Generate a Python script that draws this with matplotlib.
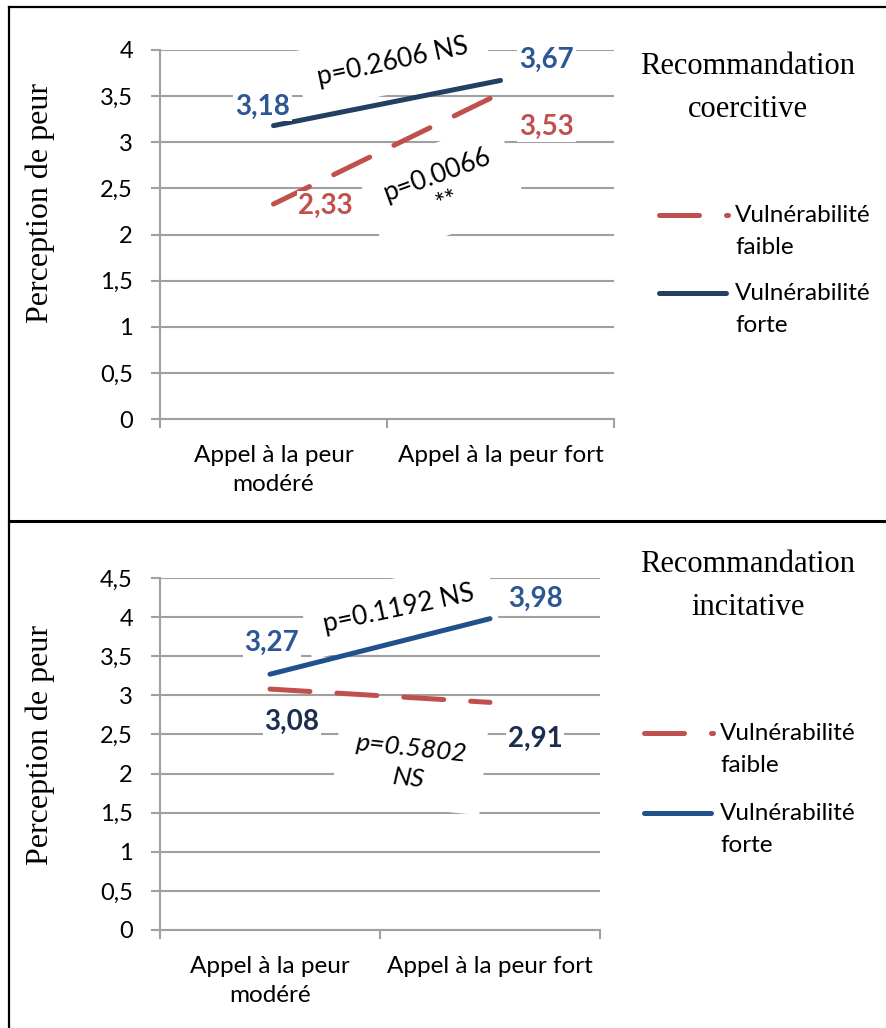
import matplotlib
matplotlib.use("Agg")
import matplotlib.pyplot as plt
from matplotlib.lines import Line2D
from matplotlib.ticker import FixedLocator

# ---------------- data ----------------
categories = ["Appel à la peur\nmodéré", "Appel à la peur fort"]
series_names = ["Vulnérabilité\nfaible", "Vulnérabilité\nforte"]

coercitive_faible = [2.33, 3.53]
coercitive_forte = [3.18, 3.67]
incitative_faible = [3.08, 2.91]
incitative_forte = [3.27, 3.98]

yticks_coercitive = [0, 0.5, 1, 1.5, 2, 2.5, 3, 3.5, 4]
yticks_incitative = [0, 0.5, 1, 1.5, 2, 2.5, 3, 3.5, 4, 4.5]

titles = ["Recommandation\ncoercitive", "Recommandation\nincitative"]
ylabel = "Perception de peur"
pvals_coercitive = ["p=0.2606 NS", "p=0.0066\n**"]
pvals_incitative = ["p=0.1192 NS", "p=0.5802\nNS"]

# ---------------- style ----------------
W, H = 886, 1028
plt.rcParams['lines.scale_dashes'] = False
SANS = ['Lato', 'DejaVu Sans']
SERIF = ['Liberation Serif', 'DejaVu Serif']
GRID = '#a0a0a0'
RED = '#C0504D'
NAVY_TOP = '#243F60'
BLUE_BOT = '#22508C'
LBL_BLUE = '#2B5797'
LBL_DARK = '#1C2E4E'
PX = 0.72  # points per pixel at dpi 100
DASH = (0, (40 * PX, 27 * PX))


def fx(px):
    return px / W


def fy(py):
    return 1 - py / H


def fmt(v):
    s = ('%g' % v)
    return s.replace('.', ',')


fig = plt.figure(figsize=(W / 100, H / 100), dpi=100)


def setup_axes(rect, yticks, ylab_coords):
    ax = fig.add_axes(rect)
    ax.set_xlim(-0.5, 1.5)
    ax.set_ylim(yticks[0], yticks[-1])
    ax.set_axisbelow(True)
    ax.yaxis.grid(True, color=GRID, lw=1.5)
    ax.set_yticks(yticks)
    ax.set_yticklabels([fmt(v) for v in yticks])
    ax.set_xticks(range(len(categories)))
    ax.set_xticklabels(categories, linespacing=1.45)
    ax.xaxis.set_minor_locator(FixedLocator([-0.5, 0.5, 1.5]))
    for s in ['top', 'right']:
        ax.spines[s].set_visible(False)
    for s in ['left', 'bottom']:
        ax.spines[s].set_color(GRID)
        ax.spines[s].set_linewidth(1.5)
    ax.tick_params(axis='y', length=9 * PX, width=1.5, color=GRID, pad=13,
                   labelsize=17)
    ax.tick_params(axis='x', which='major', length=0, pad=19, labelsize=17.5)
    ax.tick_params(axis='x', which='minor', length=9 * PX, width=1.5,
                   color=GRID)
    for lab in ax.get_xticklabels() + ax.get_yticklabels():
        lab.set_fontfamily(SANS)
    ax.set_ylabel(ylabel, family=SERIF, fontsize=23, va='center')
    ax.yaxis.set_label_coords(*ylab_coords)
    return ax


def data_label(ax, x, y, text, color, dx, dy):
    ax.annotate(text, xy=(x, y), xytext=(dx * PX, -dy * PX),
                textcoords='offset points', ha='center', va='center',
                fontsize=20, fontweight='bold', color=color, family=SANS,
                zorder=3,
                bbox=dict(boxstyle='square,pad=0.06', fc='white', ec='none'))


def pval(ax, xf, yf, text, rot, italic=False, ls=1.2):
    ax.text(xf, yf, text, transform=ax.transAxes, rotation=rot,
            rotation_mode='anchor', ha='center', va='center',
            multialignment='center', fontsize=19, family=SANS,
            style='italic' if italic else 'normal', linespacing=ls,
            zorder=1.5,
            bbox=dict(boxstyle='square,pad=0.7', fc='white', ec='none'))


def legend(x0, y_first, y_second, color_faible, color_forte):
    # handles drawn in figure coordinates
    lw = 5 * PX
    fig.add_artist(Line2D([fx(x0 + 2.5), fx(x0 + 71.5)], [fy(y_first)] * 2,
                          color=color_faible, lw=lw, linestyle=DASH,
                          dash_capstyle='round', solid_capstyle='round',
                          transform=fig.transFigure))
    fig.add_artist(Line2D([fx(x0 + 2.5), fx(x0 + 69.5)], [fy(y_second)] * 2,
                          color=color_forte, lw=lw, solid_capstyle='round',
                          transform=fig.transFigure))
    for name, yc in zip(series_names, [y_first, y_second]):
        fig.text(fx(x0 + 79), fy(yc + 16.5), name, ha='left', va='center',
                 fontsize=17.5, family=SANS, linespacing=1.6)


def title(text, yc):
    fig.text(fx(748), fy(yc), text, ha='center', va='center',
             fontsize=22, family=SERIF, linespacing=1.65)


# ---------------- top panel: coercitive ----------------
ax1 = setup_axes([fx(160), fy(419), fx(614) - fx(160), fy(50) - fy(419)],
                 yticks_coercitive, (-0.264, 0.585))
x = range(len(categories))
ax1.plot(x, coercitive_faible, color=RED, lw=5 * PX, linestyle=DASH,
         dash_capstyle='round', zorder=2)
ax1.plot(x, coercitive_forte, color=NAVY_TOP, lw=5 * PX,
         solid_capstyle='round', zorder=2)
data_label(ax1, 0, coercitive_forte[0], fmt(coercitive_forte[0]), LBL_BLUE, -11, -19)
data_label(ax1, 1, coercitive_forte[1], fmt(coercitive_forte[1]), LBL_BLUE, 46, -21)
data_label(ax1, 1, coercitive_faible[1], fmt(coercitive_faible[1]), RED, 46, 34)
data_label(ax1, 0, coercitive_faible[0], fmt(coercitive_faible[0]), RED, 52, 2)
pval(ax1, (393 - 160) / 454, (419 - 62) / 369, pvals_coercitive[0], 12)
pval(ax1, (442 - 160) / 454, (419 - 189) / 369, pvals_coercitive[1], 20)
title(titles[0], 88)
legend(656, 215, 293, RED, NAVY_TOP)

# ---------------- bottom panel: incitative ----------------
ax2 = setup_axes([fx(160), fy(930), fx(600) - fx(160), fy(578) - fy(930)],
                 yticks_incitative, (-0.273, 0.526))
ax2.plot(x, incitative_faible, color=RED, lw=5 * PX, linestyle=DASH,
         dash_capstyle='round', zorder=2)
ax2.plot(x, incitative_forte, color=BLUE_BOT, lw=5 * PX,
         solid_capstyle='round', zorder=2)
data_label(ax2, 0, incitative_forte[0], fmt(incitative_forte[0]), LBL_BLUE, 2, -31)
data_label(ax2, 1, incitative_forte[1], fmt(incitative_forte[1]), LBL_BLUE, 46, -20)
data_label(ax2, 0, incitative_faible[0], fmt(incitative_faible[0]), LBL_DARK, 22, 33)
data_label(ax2, 1, incitative_faible[1], fmt(incitative_faible[1]), LBL_DARK, 45, 36)
pval(ax2, (399 - 160) / 440, (930 - 609) / 352, pvals_incitative[0], 12)
pval(ax2, (410 - 160) / 440, (930 - 763) / 352, pvals_incitative[1], -6,
     italic=True, ls=1.35)
title(titles[1], 586)
legend(641, 733, 813, RED, BLUE_BOT)

# ---------------- frame ----------------
for xs, ys, lw in [([9, W], [7, 7], 1.6), ([9, 9], [7, H], 1.6),
                   ([9, W], [520.5, 520.5], 2.2)]:
    fig.add_artist(Line2D([fx(v) for v in xs], [fy(v) for v in ys],
                          color='black', lw=lw, transform=fig.transFigure))

fig.savefig('out.png', dpi=100)
